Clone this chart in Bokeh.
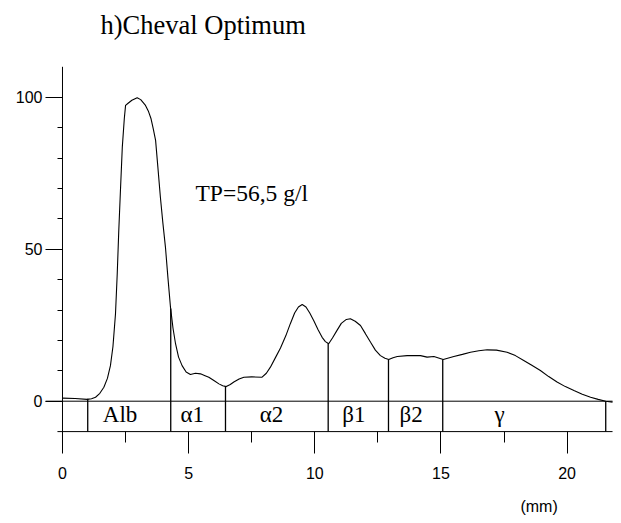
from bokeh.plotting import figure
from bokeh.models import Range1d, FixedTicker, ColumnDataSource, Label
from bokeh.embed import file_html
from bokeh.resources import INLINE
from bokeh.core.properties import value

# ---- data ----
x_mm = [0.0, 0.5, 0.98, 1.15, 1.31, 1.48, 1.64, 1.78, 1.9, 2.0, 2.1, 2.17, 2.23, 2.3,
        2.37, 2.45, 2.5, 2.6, 2.75, 2.96, 3.1, 3.29, 3.4, 3.51, 3.6, 3.69, 3.78, 3.88,
        3.98, 4.08, 4.18, 4.28, 4.38, 4.48, 4.6, 4.74, 4.9, 5.07, 5.27, 5.47, 5.65,
        5.8, 6.0, 6.2, 6.35, 6.49, 6.65, 6.79, 7.0, 7.19, 7.5, 7.91, 8.08, 8.24, 8.45,
        8.64, 8.85, 9.03, 9.2, 9.35, 9.5, 9.65, 9.8, 9.96, 10.13, 10.29, 10.42, 10.55,
        10.7, 10.88, 11.05, 11.25, 11.41, 11.6, 11.81, 12.0, 12.21, 12.4, 12.6, 12.78,
        12.93, 13.1, 13.27, 13.66, 14.19, 14.45, 14.72, 15.09, 15.3, 15.51, 15.85,
        16.17, 16.5, 16.83, 17.2, 17.62, 17.95, 18.28, 18.6, 18.94, 19.27, 19.6, 19.93,
        20.27, 20.6, 20.93, 21.23, 21.53, 21.8]
density = [1.0, 0.9, 0.6, 0.8, 1.3, 2.6, 4.6, 7.5, 11.7, 18.0, 28.7, 42.0, 56.0, 70.0,
           83.5, 93.0, 97.3, 98.0, 99.0, 99.8, 99.2, 97.3, 95.5, 92.9, 89.5, 85.8, 77.0, 67.1,
           58.5, 50.7, 40.5, 30.9, 24.0, 18.9, 14.5, 11.7, 9.6, 8.8, 9.2, 9.0, 8.4,
           7.9, 6.8, 5.7, 5.1, 4.8, 5.5, 6.3, 7.3, 7.9, 8.0, 7.9, 9.2, 11.2, 14.5,
           17.5, 21.5, 25.5, 29.0, 31.0, 31.8, 31.0, 29.0, 26.5, 23.5, 21.0, 19.6, 18.9,
           20.8, 23.3, 25.6, 26.9, 27.1, 26.3, 24.9, 22.3, 19.4, 16.8, 15.0, 14.1,
           13.7, 14.3, 14.7, 15.0, 15.0, 14.5, 14.7, 13.7, 14.2, 14.7, 15.4,
           16.1, 16.6, 16.9, 16.8, 16.1, 15.0, 13.4, 11.8, 10.1, 8.1, 6.3, 4.8,
           3.5, 2.3, 1.3, 0.6, 0.0, -0.3]

boundaries = [1.0, 4.29, 6.46, 10.53, 12.92, 15.07, 21.53]
boundary_tops = [0.8, 30.5, 4.8, 19.0, 13.7, 13.7, 0.0]

fractions = ["Alb", "α1", "α2", "β1", "β2", "γ"]
fraction_x = [2.28, 5.14, 8.28, 11.55, 13.82, 17.32]

x_ticks = [0, 5, 10, 15, 20]
x_minor = [2.5, 7.5, 12.5, 17.5]
y_ticks = [0, 50, 100]
y_minor = [10, 20, 30, 40, 60, 70, 80, 90]

title_text = "h)Cheval Optimum"
tp_text = "TP=56,5 g/l"
unit_text = "(mm)"

# plotted extents of the axes (data units)
x_lo, x_hi = 0, 21.8
y_lo, y_hi = -10, 110

# ---- figure: frame fills the page, axes pinned at fixed data locations ----
p = figure(width=621, height=523, output_backend="svg", toolbar_location=None,
           x_range=Range1d(-2.457, 22.155), y_range=Range1d(-40.23, 131.81),
           min_border=0)
p.outline_line_color = None
p.xgrid.visible = False
p.ygrid.visible = False
p.background_fill_color = "white"
p.border_fill_color = "white"

p.xaxis.fixed_location = y_lo
p.yaxis.fixed_location = x_lo
p.xaxis.ticker = FixedTicker(ticks=x_ticks, minor_ticks=x_minor)
p.yaxis.ticker = FixedTicker(ticks=y_ticks, minor_ticks=y_minor)
for ax in (p.xaxis, p.yaxis):
    ax.axis_line_color = None
    ax.major_tick_line_color = "black"
    ax.minor_tick_line_color = "black"
    ax.major_tick_in = 0
    ax.minor_tick_in = 0
    ax.major_label_text_font = "Liberation Sans"
    ax.major_label_text_font_size = "16px"
    ax.major_label_text_color = "black"
p.xaxis.major_tick_out = 22
p.xaxis.minor_tick_out = 11
p.xaxis.major_label_standoff = 13
p.yaxis.major_tick_out = 17
p.yaxis.minor_tick_out = 5
p.yaxis.major_label_standoff = 3

# axis lines and zero baseline
p.segment(x0=[x_lo, -0.2, -0.67], y0=[-13.9, y_lo, 0], x1=[x_lo, x_hi, x_hi], y1=[y_hi, y_lo, 0],
          line_color="black", line_width=1)

# density curve
p.line(x_mm, density, line_color="black", line_width=1.1)

# fraction boundaries
p.segment(x0=boundaries, y0=[y_lo] * len(boundaries), x1=boundaries, y1=boundary_tops,
          line_color="black", line_width=1.3)

# fraction labels
src = ColumnDataSource(dict(x=fraction_x, y=[-4.3] * len(fraction_x), t=fractions))
p.text(x="x", y="y", text="t", source=src, text_align="center", text_baseline="alphabetic",
       text_font=value("Liberation Serif"), text_font_size="23px", text_color="black")

# texts
p.add_layout(Label(x=1.506, y=123.6, text=title_text, text_font="Liberation Serif",
                   text_font_size="26.5px", text_color="black", text_baseline="alphabetic"))
p.add_layout(Label(x=5.27, y=68.5, text=tp_text, text_font="Liberation Serif",
                   text_font_size="23.5px", text_color="black", text_baseline="alphabetic"))
p.add_layout(Label(x=18.15, y=-34.8, text=unit_text, text_font="Liberation Sans",
                   text_font_size="16px", text_color="black", text_baseline="alphabetic"))

open("out.html", "w").write(file_html(p, INLINE))
